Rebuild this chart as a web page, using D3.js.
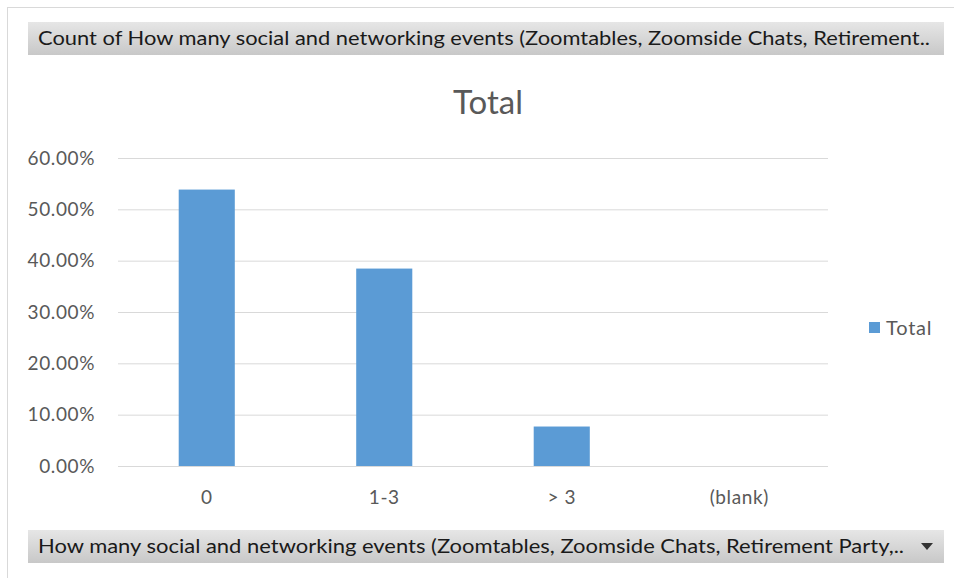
<!DOCTYPE html>
<html><head><meta charset="utf-8">
<script src="https://cdn.jsdelivr.net/npm/d3@7"></script>
<style>body{margin:0;background:#fff;}svg{display:block;font-family:Lato,"Open Sans",sans-serif;}</style>
</head><body><svg id="c" width="954" height="578"></svg>
<script>
const categories = ["0", "1-3", "> 3", "(blank)"];
const values = [0.5385, 0.3846, 0.0769, 0];
const yTicks = [0, 0.1, 0.2, 0.3, 0.4, 0.5, 0.6];
const seriesName = "Total";
const headerText = "Count of How many social and networking events (Zoomtables, Zoomside Chats, Retirement..";
const footerText = "How many social and networking events (Zoomtables, Zoomside Chats, Retirement Party,..";

const svg = d3.select("#c");
const defs = svg.append("defs");
const g1 = defs.append("linearGradient").attr("id","gb").attr("x1",0).attr("y1",0).attr("x2",0).attr("y2",1);
g1.append("stop").attr("offset","0%").attr("stop-color","#e6e6e6");
g1.append("stop").attr("offset","100%").attr("stop-color","#c8c8c8");

// outer border
svg.append("rect").attr("x",7.5).attr("y",7.5).attr("width",960).attr("height",600)
  .attr("fill","none").attr("stroke","#d9d9d9");

// header & footer field buttons
svg.append("rect").attr("x",28).attr("y",22).attr("width",916).attr("height",33).attr("fill","url(#gb)");
svg.append("text").attr("x",38).attr("y",45).attr("font-size",18.5).attr("fill","#1a1a1a")
  .attr("textLength",892).attr("lengthAdjust","spacingAndGlyphs").text(headerText);
svg.append("rect").attr("x",28).attr("y",530).attr("width",916).attr("height",33).attr("fill","url(#gb)");
svg.append("text").attr("x",38).attr("y",553).attr("font-size",18.5).attr("fill","#1a1a1a")
  .attr("textLength",866).attr("lengthAdjust","spacingAndGlyphs").text(footerText);
svg.append("path").attr("d","M921,543 L933,543 L927,550 Z").attr("fill","#333");

// chart title
svg.append("text").attr("x",488).attr("y",114).attr("text-anchor","middle")
  .attr("font-size",33).attr("fill","#595959").text(seriesName);

const x = d3.scaleBand().domain(categories).range([118, 828]).paddingInner(0.684).paddingOuter(0.342);
const y = d3.scaleLinear().domain([0, 0.6]).range([466, 158]);

// gridlines
svg.append("g").selectAll("line").data(yTicks).join("line")
  .attr("x1",118).attr("x2",828).attr("y1",d=>y(d)+0.5).attr("y2",d=>y(d)+0.5)
  .attr("stroke","#d9d9d9").attr("stroke-width",1);

// y axis labels
const yAxis = d3.axisLeft(y).tickValues(yTicks).tickFormat(d3.format(".2%")).tickSize(0).tickPadding(0);
const ya = svg.append("g").attr("transform","translate(95,0)").call(yAxis);
ya.select(".domain").remove();
ya.selectAll("text").attr("font-size",19).attr("letter-spacing",0.6).attr("fill","#595959").attr("font-family","Lato,sans-serif");

// bars
svg.append("g").selectAll("rect").data(values).join("rect")
  .attr("x",(d,i)=>x(categories[i])).attr("width",x.bandwidth())
  .attr("y",d=>y(d)).attr("height",d=>y(0)-y(d)).attr("fill","#5b9bd5");

// x axis labels
const xAxis = d3.axisBottom(x).tickSize(0).tickPadding(0);
const xa = svg.append("g").attr("transform","translate(0,490)").call(xAxis);
xa.select(".domain").remove();
xa.selectAll("text").attr("font-size",19).attr("letter-spacing",0.6).attr("fill","#595959").attr("font-family","Lato,sans-serif");

// legend
svg.append("rect").attr("x",869).attr("y",322).attr("width",11).attr("height",11).attr("fill","#5b9bd5");
svg.append("text").attr("x",886).attr("y",335).attr("font-size",20).attr("letter-spacing",0.8).attr("fill","#595959").text(seriesName);
</script></body></html>
